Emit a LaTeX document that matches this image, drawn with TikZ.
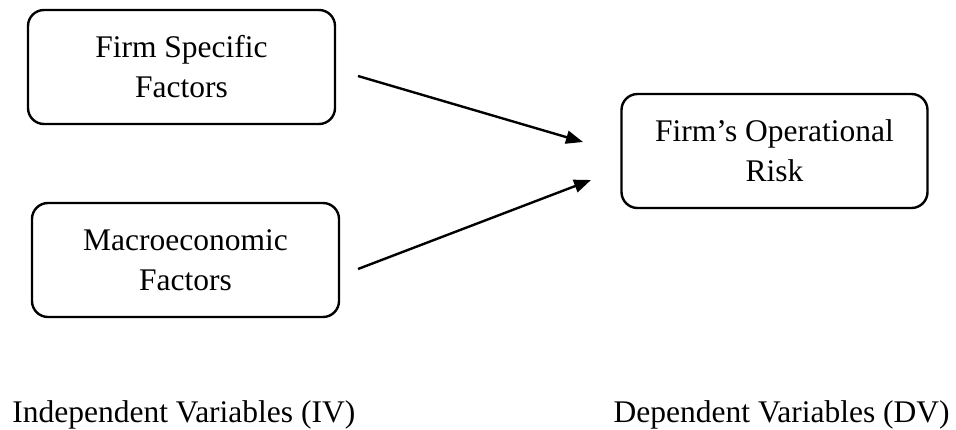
\documentclass[tikz,border=0pt]{standalone}
\usepackage{fontspec}
\setmainfont{Liberation Serif}
\usepackage{tikz}
\usetikzlibrary{positioning}
\usetikzlibrary{arrows.meta}
\tikzstyle{factor} = [draw, line width=1.2pt, rounded corners=8pt, minimum width=153.5pt, minimum height=57pt, align=center, font=\fontsize{15.75}{20}\selectfont]
\tikzstyle{caption} = [inner sep=0, font=\fontsize{15.75}{20}\selectfont]
\tikzstyle{effect} = [-{Triangle[length=8.5pt, width=6.5pt]}, line width=1.2pt]

\begin{document}
\begin{tikzpicture}[x=0.5pt, y=-0.5pt]
	\useasboundingbox (0,0) rectangle (956,429);

	\node (firm) at(181.5,67) [factor] {Firm Specific\\Factors};
	\node (macro) at(185.5,260) [factor] {Macroeconomic\\Factors};
	\node (risk) at(774.5,151) [factor, minimum width=153pt] {Firm’s Operational\\Risk};

	\coordinate (firm out) at(358,76);
	\coordinate (macro out) at(358,269);
	\coordinate (risk in1) at(583,142);
	\coordinate (risk in2) at(591,180);

	\draw[effect] (firm out) -- (risk in1);
	\draw[effect] (macro out) -- (risk in2);

	\node (iv) at(12,422) [caption, anchor=base west] {Independent Variables (IV)};
	\node (dv) at(950,422) [caption, anchor=base east] {Dependent Variables (DV)};
\end{tikzpicture}
\end{document}
